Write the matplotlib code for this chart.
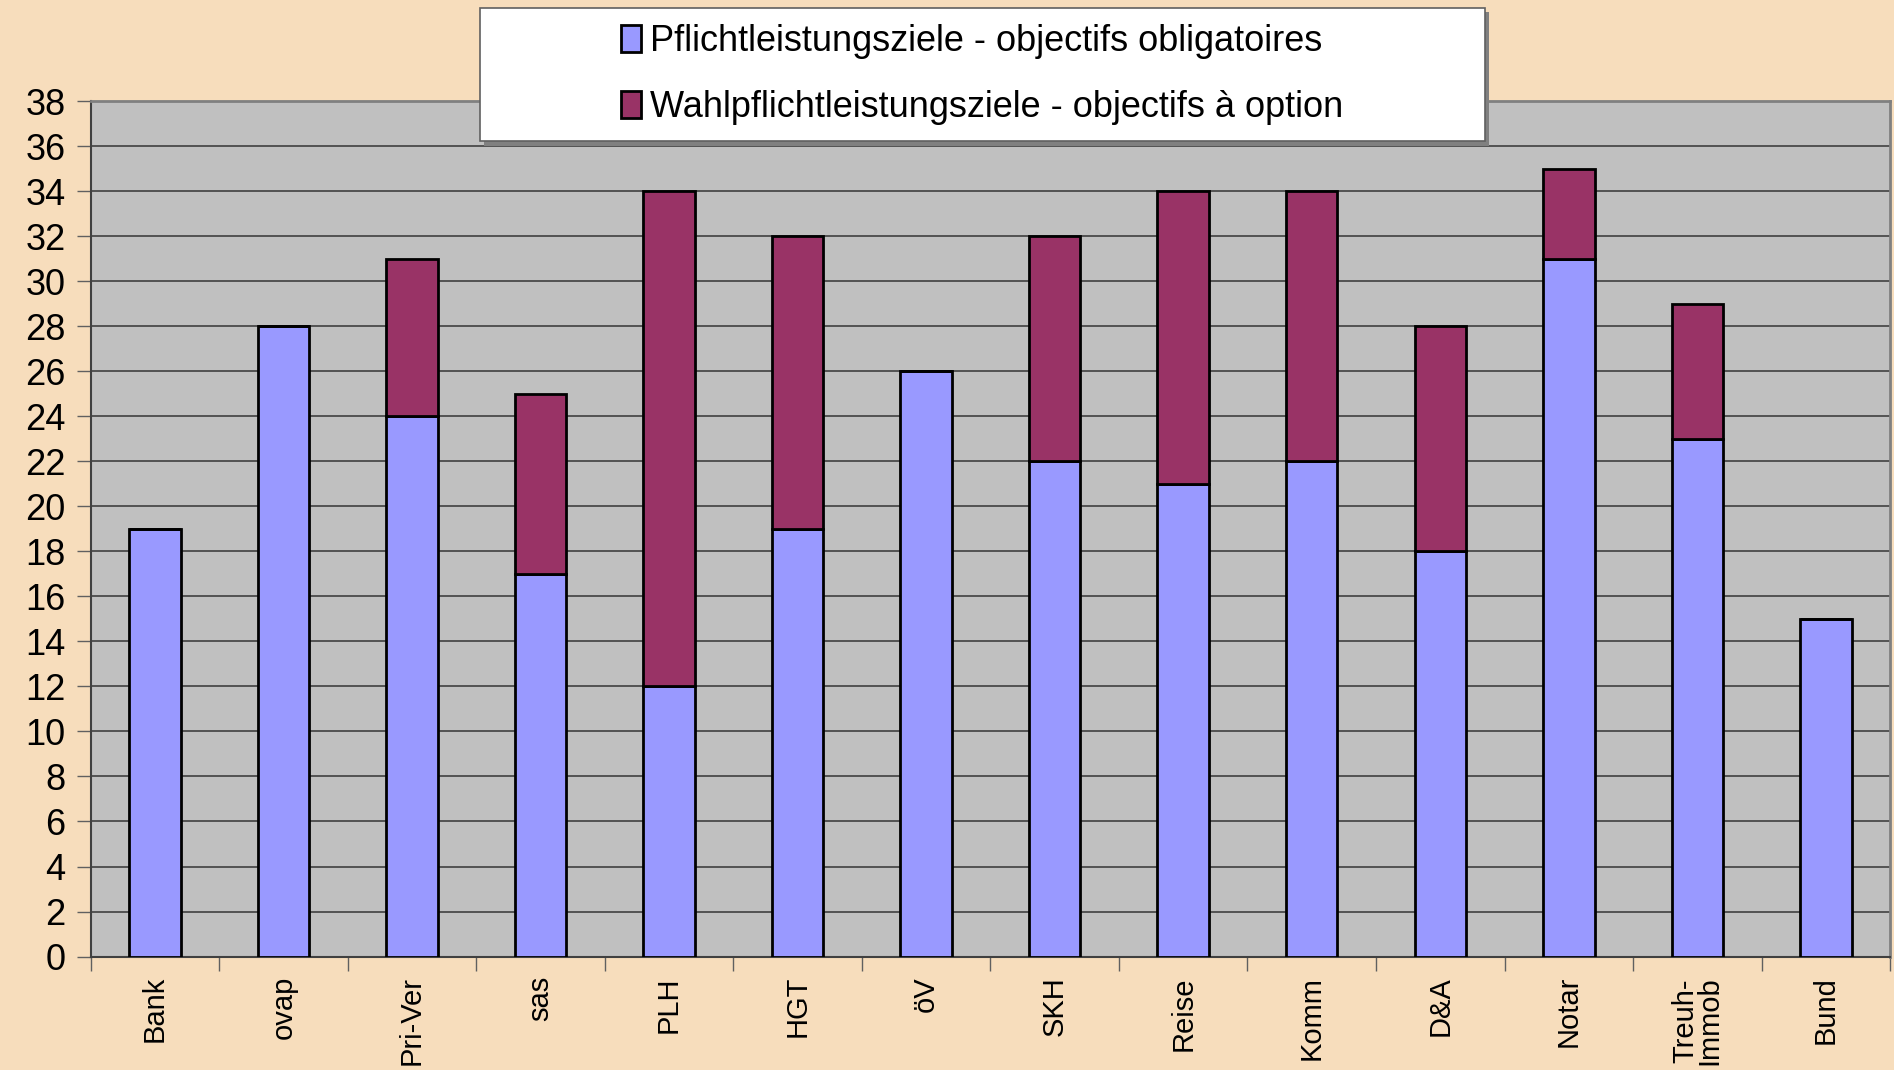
import numpy as np
import matplotlib.pyplot as plt
from matplotlib.patches import Patch, Rectangle

categories = ["Bank", "ovap", "Pri-Ver", "sas", "PLH", "HGT", "öV", "SKH",
              "Reise", "Komm", "D&A", "Notar", "Treuh-\nImmob", "Bund"]
pflicht = [19, 28, 24, 17, 12, 19, 26, 22, 21, 22, 18, 31, 23, 15]
wahl = [0, 0, 7, 8, 22, 13, 0, 10, 13, 12, 10, 4, 6, 0]
y_ticks = list(range(0, 39, 2))

blue = "#9999FF"
maroon = "#993366"
bg = "#F7DDBC"

fig = plt.figure(figsize=(18.94, 10.70), dpi=100, facecolor=bg)
ax = fig.add_axes([0.0478, 0.106, 0.9502, 0.7996])
ax.set_facecolor("#C0C0C0")

x = np.arange(len(categories))
ax.bar(x, pflicht, width=0.4, color=blue, edgecolor="black", linewidth=2, zorder=3)
ax.bar(x, wahl, width=0.4, bottom=pflicht, color=maroon, edgecolor="black", linewidth=2, zorder=3)

ax.set_xlim(-0.5, len(categories) - 0.5)
ax.set_ylim(0, 38)
ax.set_yticks(y_ticks)
ax.set_yticklabels([str(v) for v in y_ticks], family="Liberation Sans", fontsize=26)
ax.yaxis.grid(True, color="#404040", linewidth=1.2, zorder=1)
ax.set_axisbelow(True)
ax.tick_params(axis="y", length=10, width=1, color="#606060", pad=8)

# category labels centred, tick marks on the boundaries
ax.set_xticks(x)
ax.set_xticklabels(categories, rotation=90, family="Liberation Sans", fontsize=21,
                   va="top", linespacing=0.85)
ax.tick_params(axis="x", length=0, pad=14)
ax.set_xticks(np.arange(len(categories) + 1) - 0.5, minor=True)
ax.tick_params(axis="x", which="minor", length=10, width=1, color="#606060")

for side in ["top", "right"]:
    ax.spines[side].set_color("#808080")
    ax.spines[side].set_linewidth(2)
for side in ["left", "bottom"]:
    ax.spines[side].set_color("#404040")
    ax.spines[side].set_linewidth(1.5)

# legend box
box = (0.2535, 0.868, 0.5305, 0.1245)
fig.patches.append(Rectangle((box[0] + 0.002, box[1] - 0.004), box[2], box[3],
                             transform=fig.transFigure, facecolor="#808080",
                             edgecolor="none", zorder=4))
fig.patches.append(Rectangle((box[0], box[1]), box[2], box[3],
                             transform=fig.transFigure, facecolor="white",
                             edgecolor="#606060", linewidth=1.2, zorder=5))

handles = [Patch(facecolor=blue, edgecolor="black", linewidth=2),
           Patch(facecolor=maroon, edgecolor="black", linewidth=2)]
labels = ["Pflichtleistungsziele - objectifs obligatoires",
          "Wahlpflichtleistungsziele - objectifs à option"]
leg = fig.legend(handles, labels, loc="center", bbox_to_anchor=box,
                 frameon=False, prop={"family": "Liberation Sans", "size": 26},
                 handlelength=0.55, handleheight=0.75, handletextpad=0.25,
                 labelspacing=0.85, borderaxespad=0)
leg.set_zorder(6)

fig.savefig("out.png", dpi=100, facecolor=bg)
